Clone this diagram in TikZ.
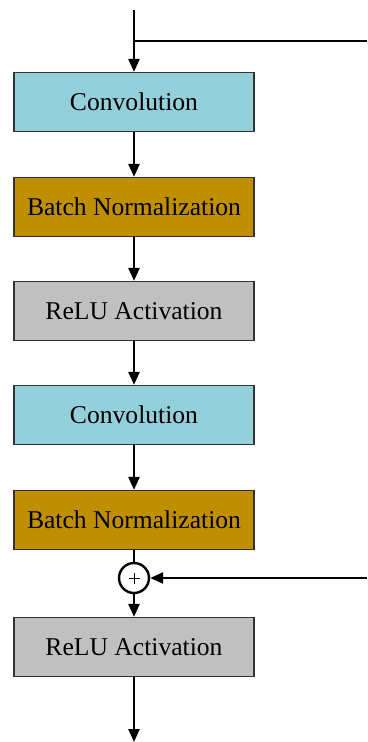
\documentclass[tikz,border=0pt]{standalone}
\usepackage{fontspec}
\setmainfont{Liberation Serif}
\usetikzlibrary{arrows.meta}
\definecolor{convfill}{HTML}{94CFDC}
\definecolor{bnfill}{HTML}{C08F00}
\definecolor{relufill}{HTML}{C0C0C0}
\definecolor{boxline}{HTML}{333333}
\begin{document}
\begin{tikzpicture}[x=1pt,y=-1pt,
  layer/.style={draw=boxline,line width=1.2pt,minimum width=240pt,minimum height=59pt,
    inner sep=0pt,font=\fontsize{25.6}{30}\selectfont},
  conv/.style={layer,fill=convfill},
  bnorm/.style={layer,fill=bnfill},
  relu/.style={layer,fill=relufill},
  flow/.style={line width=2.4pt,-{Triangle[length=13pt,width=11pt]}},
  wire/.style={line width=2.4pt},
  sumnode/.style={circle,draw,line width=2.4pt,minimum size=30pt,inner sep=0pt,fill=white,
    path picture={
      \draw[line width=1pt] ([xshift=-5.5pt]path picture bounding box.center) -- ([xshift=5.5pt]path picture bounding box.center);
      \draw[line width=1pt] ([yshift=-5.5pt]path picture bounding box.center) -- ([yshift=5.5pt]path picture bounding box.center);
    }}]
\useasboundingbox (0,0) rectangle (367,742);
\node[conv]  (c1) at (134,102) {Convolution};
\node[bnorm] (b1) at (134,207) {Batch Normalization};
\node[relu]  (r1) at (134,311) {ReLU Activation};
\node[conv]  (c2) at (134,415) {Convolution};
\node[bnorm] (b2) at (134,520) {Batch Normalization};
\node[sumnode] (s) at (134,578) {};
\node[relu]  (r2) at (134,647) {ReLU Activation};
\coordinate (in) at (134,10);
\coordinate (split) at (134,41);
\coordinate (skipA) at (367,41);
\coordinate (skipB) at (367,578);
\coordinate (out) at (134,742);
\draw[flow] (in) -- (c1.north);
\draw[wire] (split) -- (skipA);
\draw[flow] (c1) -- (b1);
\draw[flow] (b1) -- (r1);
\draw[flow] (r1) -- (c2);
\draw[flow] (c2) -- (b2);
\draw[wire] (b2) -- (s);
\draw[flow] (skipB) -- (s);
\draw[flow] (s) -- (r2);
\draw[flow] (r2) -- (out);
\end{tikzpicture}
\end{document}
